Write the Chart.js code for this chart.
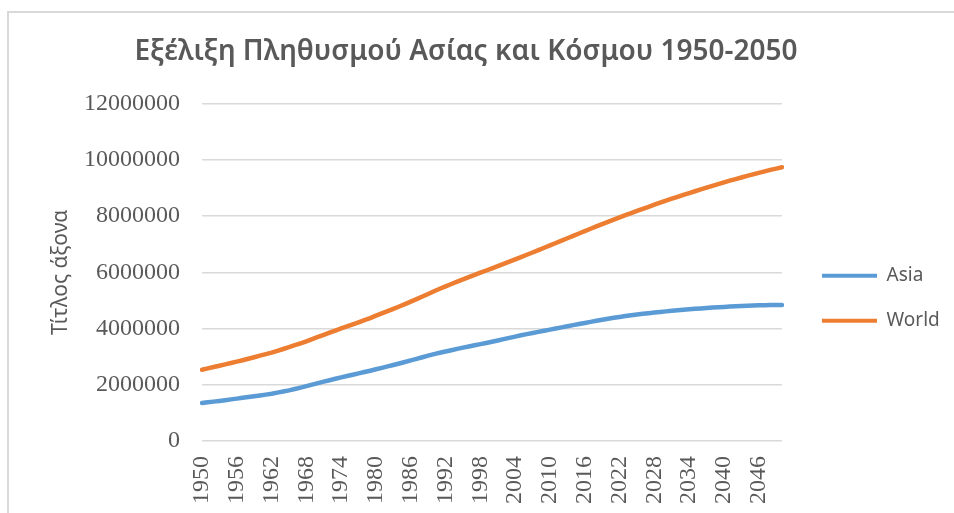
<!DOCTYPE html>
<html>
<head>
<meta charset="utf-8">
<script src="https://cdn.jsdelivr.net/npm/chart.js@4"></script>
<style>
  body { margin: 0; background: #fff; }
  #wrap { position: relative; width: 954px; height: 513px; overflow: hidden; }
  #frame { position: absolute; left: 7px; top: 11px; width: 980px; height: 540px;
           border-top: 2px solid #d9d9d9; border-left: 2px solid #d9d9d9; pointer-events: none; }
  canvas { position: absolute; left: 0; top: 0; }
</style>
</head>
<body>
<div id="wrap">
  <canvas id="popChart" width="954" height="513"></canvas>
  <div id="frame"></div>
</div>
<script>
const years = [
  "1950","1951","1952","1953","1954","1955","1956","1957","1958","1959",
  "1960","1961","1962","1963","1964","1965","1966","1967","1968","1969",
  "1970","1971","1972","1973","1974","1975","1976","1977","1978","1979",
  "1980","1981","1982","1983","1984","1985","1986","1987","1988","1989",
  "1990","1991","1992","1993","1994","1995","1996","1997","1998","1999",
  "2000","2001","2002","2003","2004","2005","2006","2007","2008","2009",
  "2010","2011","2012","2013","2014","2015","2016","2017","2018","2019",
  "2020","2021","2022","2023","2024","2025","2026","2027","2028","2029",
  "2030","2031","2032","2033","2034","2035","2036","2037","2038","2039",
  "2040","2041","2042","2043","2044","2045","2046","2047","2048","2049",
  "2050"
];

// only every sixth year gets a label, like the original
const tickYears = ["1950","1956","1962","1968","1974","1980","1986","1992","1998",
  "2004","2010","2016","2022","2028","2034","2040","2046"];

const asia = [
  1350000,1375000,1400000,1426000,1452000,1480000,1507000,1535000,1562000,1590000,
  1620000,1650000,1683000,1721000,1762000,1800000,1850000,1900000,1952000,2005000,
  2060000,2112000,2162000,2212000,2262000,2310000,2357000,2404000,2452000,2500000,
  2550000,2601000,2652000,2704000,2757000,2810000,2866000,2922000,2978000,3034000,
  3090000,3138000,3184000,3230000,3275000,3320000,3362000,3404000,3446000,3488000,
  3530000,3576000,3622000,3668000,3714000,3760000,3800000,3840000,3880000,3920000,
  3960000,4000000,4040000,4080000,4120000,4160000,4198000,4236000,4274000,4312000,
  4350000,4382000,4413000,4443000,4472000,4500000,4523000,4546000,4568000,4589000,
  4610000,4629000,4647000,4665000,4683000,4700000,4715000,4730000,4744000,4757000,
  4770000,4781000,4792000,4802000,4811000,4820000,4826000,4831000,4835000,4838000,
  4840000
];

const world = [
  2536000,2584000,2630000,2677000,2724000,2773000,2822000,2873000,2925000,2979000,
  3035000,3088000,3144000,3207000,3272000,3339000,3407000,3476000,3547000,3622000,
  3700000,3775000,3851000,3927000,4002000,4076000,4149000,4221000,4296000,4373000,
  4458000,4537000,4618000,4701000,4785000,4870000,4957000,5046000,5137000,5230000,
  5327000,5414000,5500000,5584000,5666000,5746000,5826000,5906000,5985000,6064000,
  6143000,6222000,6301000,6380000,6461000,6541000,6623000,6705000,6789000,6873000,
  6957000,7042000,7127000,7211000,7296000,7380000,7464000,7548000,7631000,7713000,
  7795000,7875000,7954000,8032000,8108000,8184000,8258000,8331000,8404000,8476000,
  8548000,8617000,8685000,8752000,8818000,8883000,8947000,9011000,9074000,9137000,
  9199000,9258000,9316000,9373000,9429000,9484000,9538000,9591000,9642000,9689000,
  9735000
];

const grey = "#595959";

new Chart("popChart", {
  type: "line",
  data: {
    labels: years,
    datasets: [{
      label: "Asia",
      data: asia,
      borderColor: "#5B9BD5",
      backgroundColor: "#5B9BD5",
      yAxisID: "y"
    }, {
      label: "World",
      data: world,
      borderColor: "#ED7D31",
      backgroundColor: "#ED7D31",
      yAxisID: "y"
    }]
  },
  options: {
    responsive: false,
    animation: false,
    devicePixelRatio: 1,
    layout: {padding: {left: -10, right: 12, top: 0, bottom: 9}},
    elements: {
      line: {borderWidth: 4.5, tension: 0, borderCapStyle: "round", borderJoinStyle: "round"},
      point: {radius: 0}
    },
    plugins: {
      title: {
        display: true,
        text: "Εξέλιξη Πληθυσμού Ασίας και Κόσμου 1950-2050",
        color: grey,
        font: {family: "'Noto Sans'", size: 28, weight: "600"},
        padding: {top: 35, bottom: 35}
      },
      legend: {
        display: true,
        position: "right",
        fullSize: false,
        maxWidth: 146,
        title: {display: true, text: "", font: {size: 10}, padding: 20},
        labels: {
          color: grey,
          font: {family: "'Noto Sans'", size: 19},
          boxWidth: 55,
          boxHeight: 4,
          padding: 26,
          generateLabels: chart =>
            Chart.defaults.plugins.legend.labels.generateLabels(chart).map(l => ({...l, lineWidth: 0}))
        }
      },
      tooltip: {enabled: false}
    },
    scales: {
      x: {
        grid: {display: false, drawTicks: false},
        border: {display: false},
        ticks: {
          autoSkip: false,
          minRotation: 90,
          maxRotation: 90,
          padding: 15,
          color: grey,
          font: {family: "'Liberation Serif'", size: 24},
          callback: function(val, i) {
            const y = years[i];
            return tickYears.includes(y) ? y : "";
          }
        },
        afterFit: s => { s.height = 63; }
      },
      y: {
        min: 0,
        max: 12000000,
        grid: {color: "#d9d9d9", lineWidth: 1.5, drawTicks: false},
        border: {display: false},
        ticks: {
          stepSize: 2000000,
          padding: 22,
          color: grey,
          font: {family: "'Liberation Serif'", size: 24},
          callback: v => String(v)
        },
        title: {
          display: true,
          text: "Τίτλος άξονα",
          color: grey,
          font: {family: "'Noto Sans'", size: 21},
          padding: {top: 58, bottom: 11}
        },
        afterFit: s => { s.width = 212; }
      },
      // empty right-hand axis, only keeps a gap between plot and legend
      gap: {
        type: "linear",
        position: "right",
        display: true,
        grid: {display: false, drawTicks: false},
        border: {display: false},
        ticks: {display: false},
        afterFit: s => { s.width = 14; }
      }
    }
  }
});
</script>
</body>
</html>
